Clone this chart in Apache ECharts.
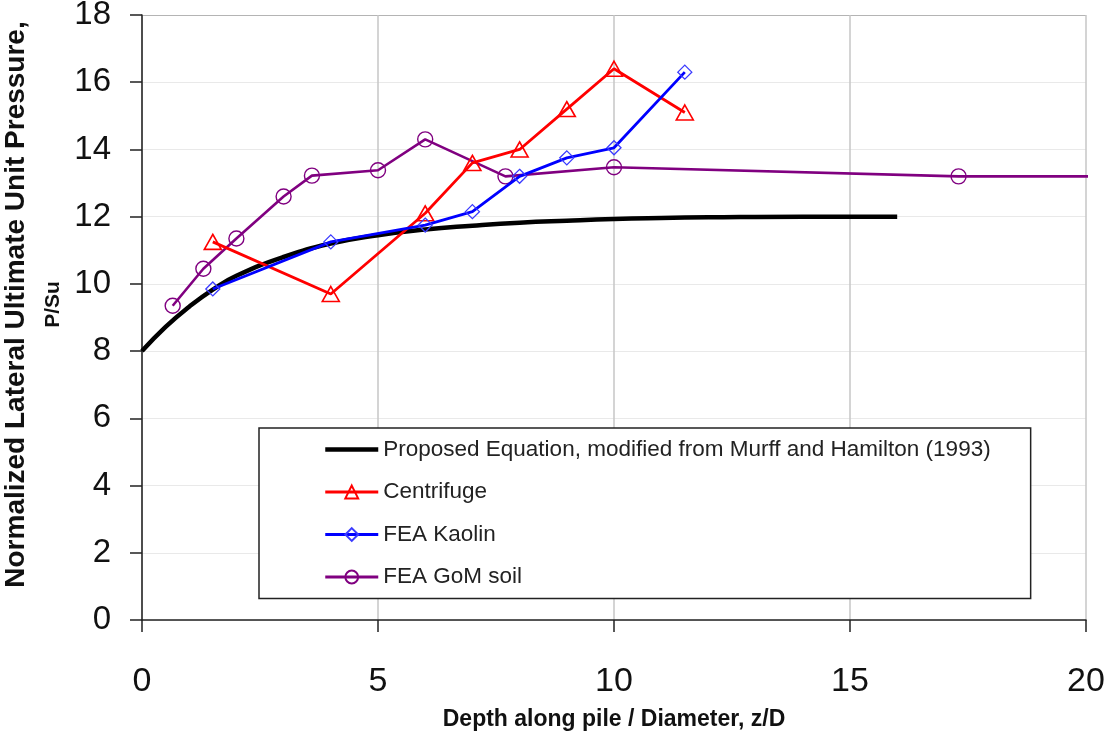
<!DOCTYPE html>
<html>
<head>
<meta charset="utf-8">
<script src="https://cdn.jsdelivr.net/npm/echarts@6/dist/echarts.min.js"></script>
<style>
html,body{margin:0;padding:0;background:#fff;}
#chart{width:1107px;height:733px;}
</style>
</head>
<body>
<div id="chart"></div>
<script>
// ---- data ----
var seriesNames = [
  'Proposed Equation, modified from Murff and Hamilton (1993)',
  'Centrifuge',
  'FEA Kaolin',
  'FEA GoM soil'
];
var proposedX = [0, 0.5, 1, 1.5, 2, 3, 4, 5, 6, 7, 8, 9, 10, 11, 12, 14, 16];
var proposedY = [8.0, 8.72, 9.32, 9.83, 10.24, 10.8, 11.2, 11.45, 11.62, 11.73, 11.82, 11.88, 11.93, 11.96, 11.98, 12.0, 12.0];
var centrifugeX = [1.5, 4, 6, 7, 8, 9, 10, 11.5];
var centrifugeY = [11.25, 9.7, 12.1, 13.6, 14.0, 15.2, 16.4, 15.1];
var kaolinX = [1.5, 4, 6, 7, 8, 9, 10, 11.5];
var kaolinY = [9.85, 11.25, 11.75, 12.15, 13.2, 13.75, 14.05, 16.3];
var gomX = [0.65, 1.3, 2.0, 3.0, 3.6, 5.0, 6.0, 7.7, 10.0, 17.3];
var gomY = [9.35, 10.45, 11.35, 12.6, 13.22, 13.38, 14.3, 13.2, 13.47, 13.2];
var gomTailX = 20.2, gomTailY = 13.2; // line continues past the last marker
var xTicks = {min: 0, max: 20, interval: 5};
var yTicks = {min: 0, max: 18, interval: 2};

function pairs(xs, ys) { return xs.map(function (x, i) { return [x, ys[i]]; }); }

var FONT = '"Liberation Sans", Arial, Helvetica, sans-serif';
var chart = echarts.init(document.getElementById('chart'), null, {renderer: 'canvas'});

var gomData = pairs(gomX, gomY);
gomData.push({value: [gomTailX, gomTailY], symbol: 'none'});

var ySplitColors = [];
for (var v = yTicks.min; v <= yTicks.max; v += yTicks.interval) {
  ySplitColors.push(v === yTicks.max ? '#b4b4b4' : '#e9e9e9');
}

chart.setOption({
  animation: false,
  backgroundColor: '#fff',
  grid: {left: 142, right: 21, top: 15, bottom: 113, containLabel: false, outerBoundsMode: 'none'},
  legend: {
    orient: 'vertical',
    left: 259, top: 428,
    padding: [10, 40, 10, 64],
    itemGap: 19.5,
    itemWidth: 53,
    itemHeight: 16,
    borderColor: '#222',
    borderWidth: 1.5,
    backgroundColor: '#fff',
    textStyle: {fontFamily: FONT, fontSize: 22.5, color: '#222', lineHeight: 22},
    data: [
      {name: seriesNames[0], itemStyle: {color: 'rgba(0,0,0,0)', borderColor: 'rgba(0,0,0,0)', borderWidth: 0}, lineStyle: {width: 4.5, color: '#000'}},
      {name: seriesNames[1], lineStyle: {width: 3, color: '#ff0000'}},
      {name: seriesNames[2], lineStyle: {width: 3, color: '#0000ff'}},
      {name: seriesNames[3], lineStyle: {width: 3, color: '#800080'}}
    ]
  },
  xAxis: {
    type: 'value',
    min: xTicks.min, max: xTicks.max, interval: xTicks.interval,
    name: 'Depth along pile / Diameter, z/D',
    nameLocation: 'middle',
    nameGap: 88,
    nameTextStyle: {fontFamily: FONT, fontSize: 23, fontWeight: 'bold', color: '#111'},
    axisLine: {show: true, onZero: false, lineStyle: {color: '#222', width: 1.5}},
    axisTick: {show: true, inside: false, length: 12, lineStyle: {color: '#222', width: 1.5}},
    axisLabel: {fontFamily: FONT, fontSize: 34, color: '#111', margin: 45},
    splitLine: {show: true, lineStyle: {color: '#c6c6c6', width: 1.5}}
  },
  yAxis: {
    type: 'value',
    min: yTicks.min, max: yTicks.max, interval: yTicks.interval,
    name: '{a|Normalized Lateral Ultimate Unit Pressure,}\n{b|P/Su}',
    nameLocation: 'middle',
    nameRotate: 90,
    nameGap: 80,
    nameTextStyle: {
      fontFamily: FONT, fontWeight: 'bold', color: '#111', align: 'center',
      padding: [0, 0, 0, 26],
      rich: {
        a: {fontFamily: FONT, fontSize: 28, fontWeight: 'bold', color: '#111', lineHeight: 56, align: 'center'},
        b: {fontFamily: FONT, fontSize: 21, fontWeight: 'bold', color: '#111', lineHeight: 18, align: 'center'}
      }
    },
    axisLine: {show: true, onZero: false, lineStyle: {color: '#222', width: 1.5}},
    axisTick: {show: true, inside: false, length: 12, lineStyle: {color: '#222', width: 1.5}},
    axisLabel: {fontFamily: FONT, fontSize: 33, color: '#111', margin: 31},
    splitLine: {show: true, lineStyle: {color: ySplitColors, width: 1.2}}
  },
  series: [
    {
      name: seriesNames[0], type: 'line', data: pairs(proposedX, proposedY),
      smooth: 0.5, showSymbol: false, symbol: 'none',
      lineStyle: {color: '#000', width: 4.5},
      itemStyle: {color: '#000'},
      z: 2
    },
    {
      name: seriesNames[1], type: 'line', data: pairs(centrifugeX, centrifugeY),
      symbol: 'triangle', symbolSize: [17, 15],
      lineStyle: {color: '#ff0000', width: 2.8},
      itemStyle: {color: 'rgba(255,255,255,0)', borderColor: '#ff0000', borderWidth: 1.6},
      z: 4
    },
    {
      name: seriesNames[2], type: 'line', data: pairs(kaolinX, kaolinY),
      symbol: 'diamond', symbolSize: 14,
      lineStyle: {color: '#0000ff', width: 2.8},
      itemStyle: {color: 'rgba(255,255,255,0)', borderColor: '#3a3aff', borderWidth: 1.3},
      z: 5
    },
    {
      name: seriesNames[3], type: 'line', data: gomData,
      symbol: 'circle', symbolSize: 15, clip: false,
      lineStyle: {color: '#800080', width: 2.6},
      itemStyle: {color: 'rgba(255,255,255,0)', borderColor: '#800080', borderWidth: 1.4},
      z: 3
    }
  ]
});
</script>
</body>
</html>
